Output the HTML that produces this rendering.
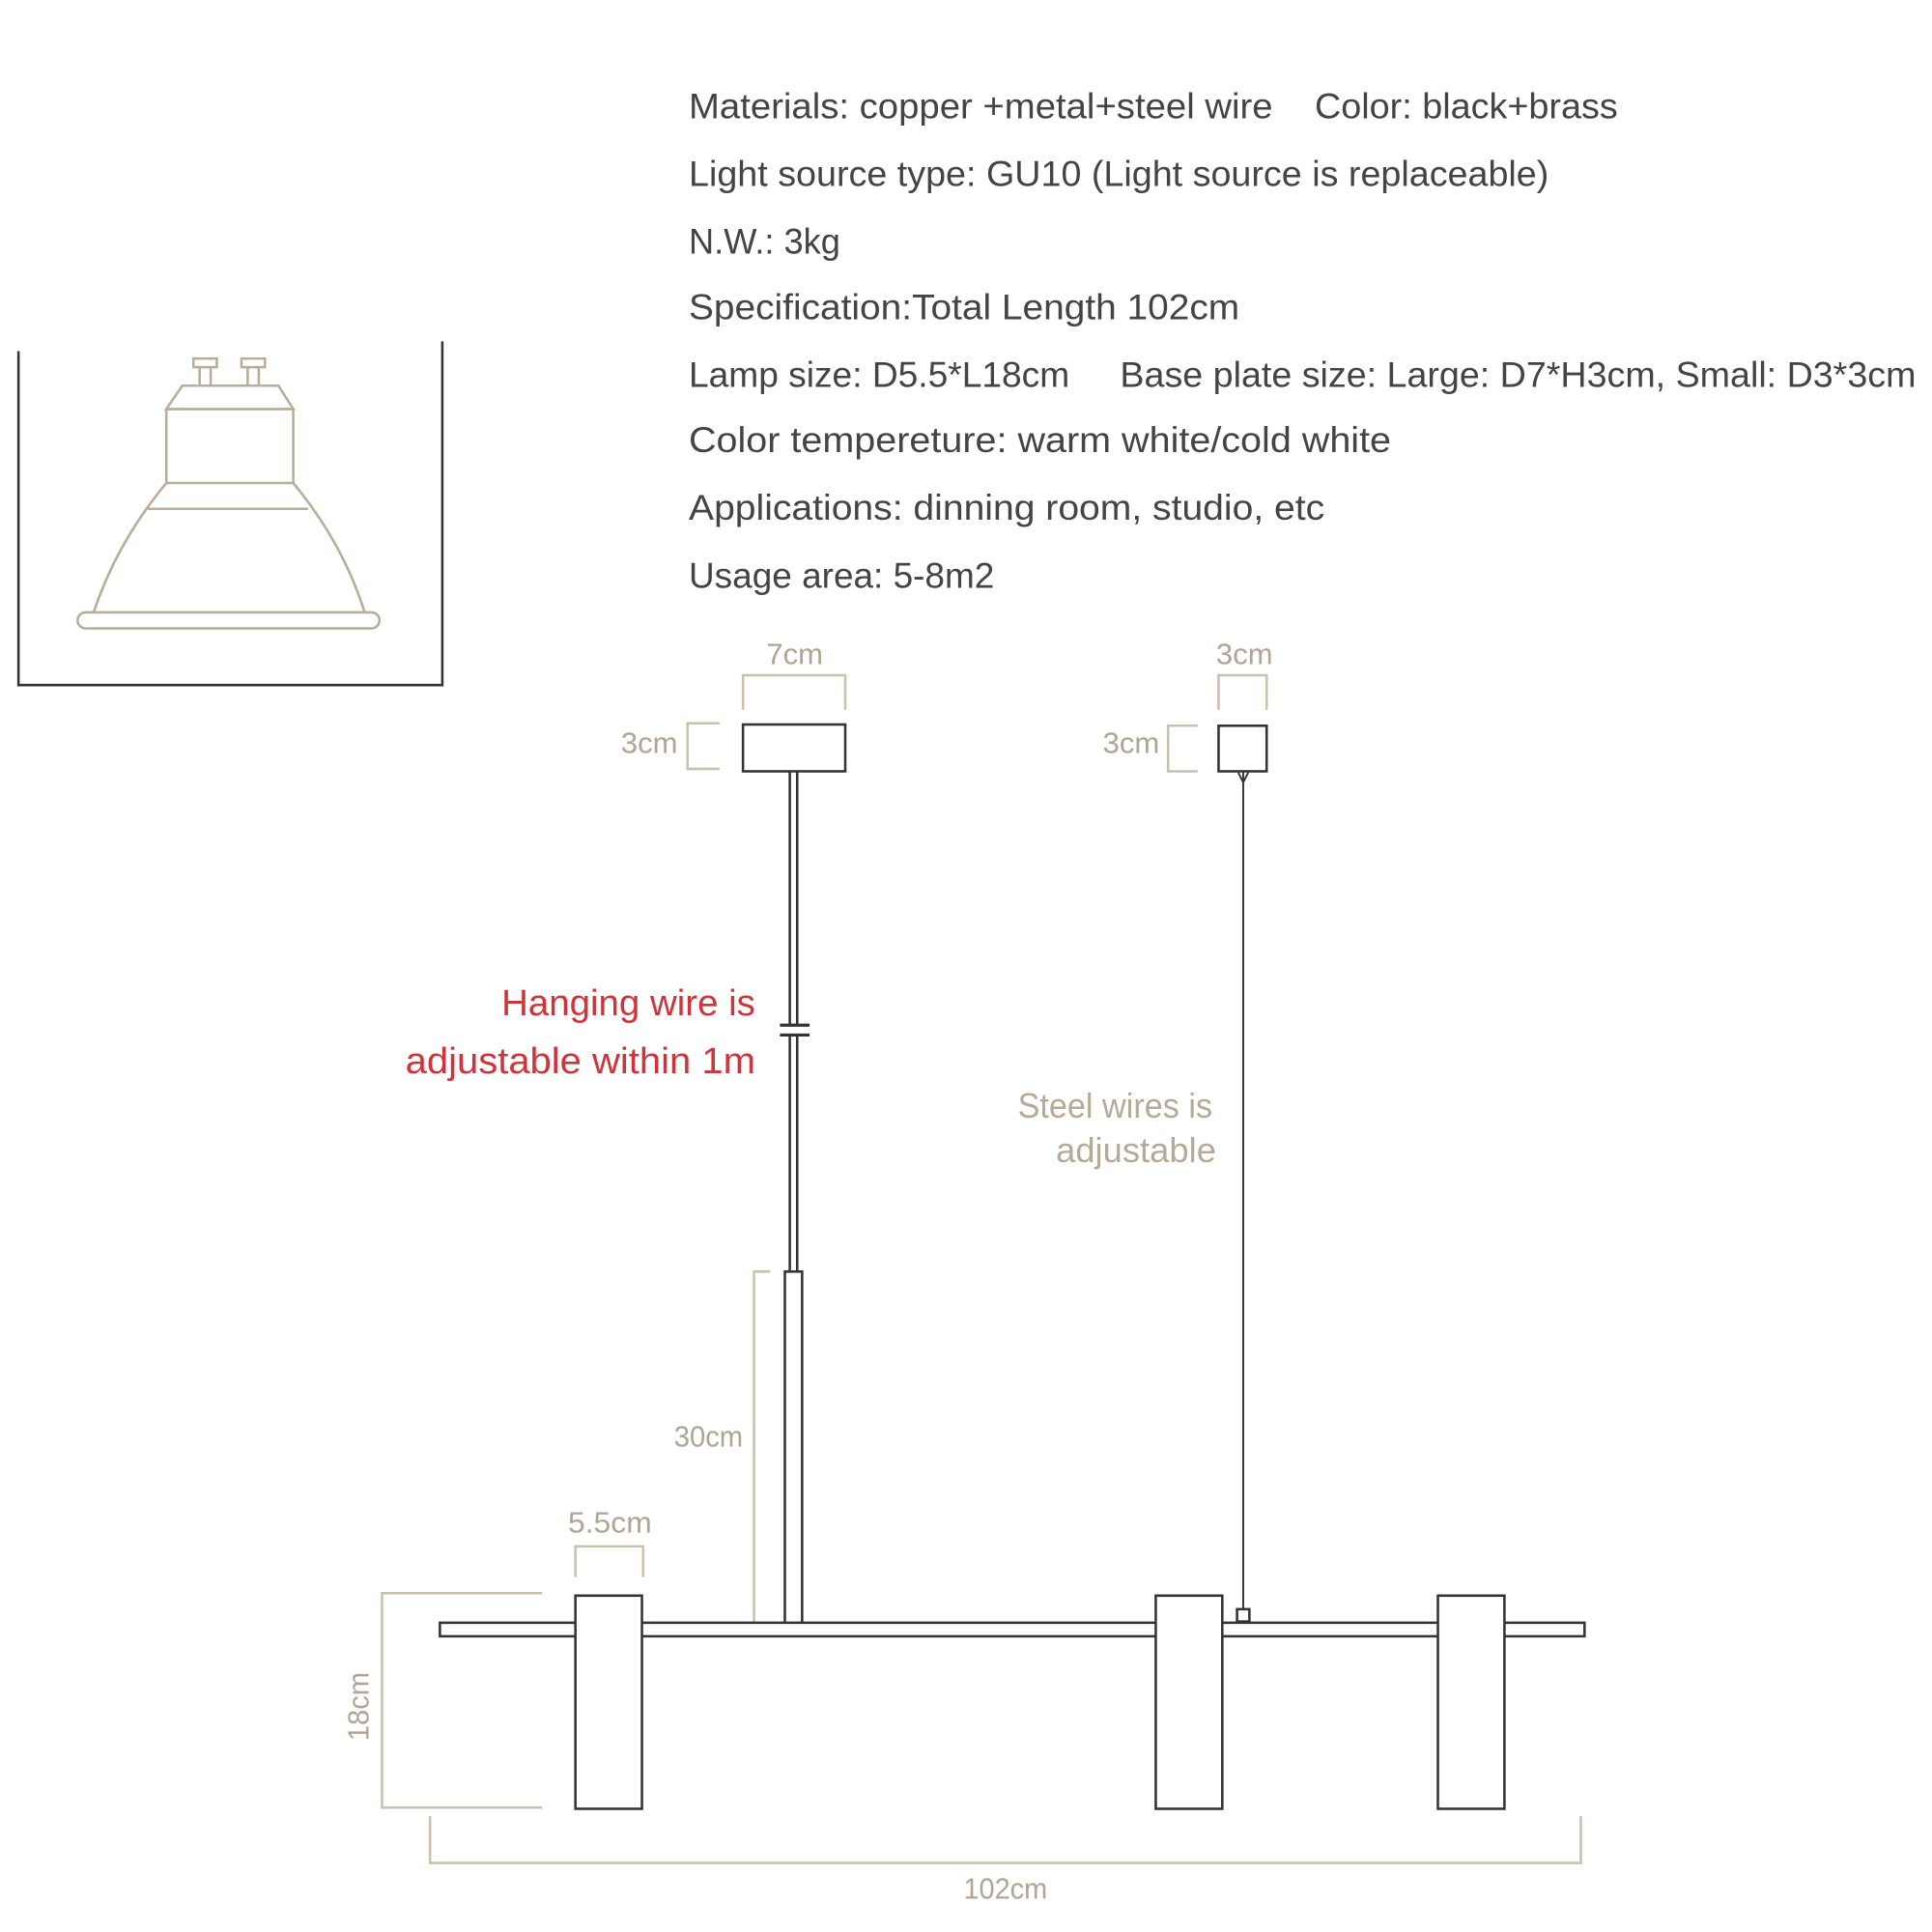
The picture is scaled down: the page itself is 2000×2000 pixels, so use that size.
<!DOCTYPE html>
<html><head><meta charset="utf-8"><style>
html,body{margin:0;padding:0;background:#fff;}
svg{display:block;}
</style></head><body>
<svg width="2000" height="2000" viewBox="0 0 1568 1568" xmlns="http://www.w3.org/2000/svg">
<rect width="1568" height="1568" fill="#fff"/>
<g font-family="Liberation Sans, sans-serif" font-size="29" fill="#444">
<text x="559" y="96" textLength="474" lengthAdjust="spacingAndGlyphs">Materials: copper +metal+steel wire</text>
<text x="1067" y="96" textLength="246" lengthAdjust="spacingAndGlyphs">Color: black+brass</text>
<text x="559" y="151" textLength="698" lengthAdjust="spacingAndGlyphs">Light source type: GU10 (Light source is replaceable)</text>
<text x="559" y="206" textLength="123" lengthAdjust="spacingAndGlyphs">N.W.: 3kg</text>
<text x="559" y="259" textLength="447" lengthAdjust="spacingAndGlyphs">Specification:Total Length 102cm</text>
<text x="559" y="314" textLength="309" lengthAdjust="spacingAndGlyphs">Lamp size: D5.5*L18cm</text>
<text x="909" y="314" textLength="646" lengthAdjust="spacingAndGlyphs">Base plate size:  Large: D7*H3cm, Small: D3*3cm</text>
<text x="559" y="367" textLength="570" lengthAdjust="spacingAndGlyphs">Color tempereture: warm white/cold white</text>
<text x="559" y="422" textLength="516" lengthAdjust="spacingAndGlyphs">Applications: dinning room, studio, etc</text>
<text x="559" y="477" textLength="248" lengthAdjust="spacingAndGlyphs">Usage area: 5-8m2</text>
</g>
<!-- bulb frame -->
<path d="M15 285 V556 H359 V277" fill="none" stroke="#333" stroke-width="2"/>
<g fill="none" stroke="#b8ad9b" stroke-width="2">
<rect x="157" y="291" width="19" height="7"/><rect x="196" y="291" width="19" height="7"/>
<path d="M162 298 V313 M171 298 V313 M201 298 V313 M210 298 V313"/>
<path d="M135 332 L148 313 H226 L238 332 Z"/>
<rect x="135" y="332" width="103" height="60"/>
<path d="M135 392 Q95 440 76 497 M238 392 Q278 440 296 497"/>
<path d="M120 413 H250"/>
<rect x="63" y="497" width="245" height="13" rx="6.5"/>
</g>
<!-- dimension lines -->
<g fill="none" stroke="#c9c0b0" stroke-width="2">
<path d="M603 576 V548 H686 V576"/>
<path d="M584 587 H558 V624 H584"/>
<path d="M989 576 V548 H1028 V576"/>
<path d="M972 589 H948 V626 H972"/>
<path d="M625 1032 H612 V1318"/>
<path d="M467 1280 V1255 H522 V1280"/>
<path d="M440 1293 H310 V1467 H440"/>
<path d="M349 1474 V1512 H1283 V1474"/>
</g>
<g font-family="Liberation Sans, sans-serif" font-size="24" fill="#b0a595">
<text x="645" y="539" text-anchor="middle" textLength="46" lengthAdjust="spacingAndGlyphs">7cm</text>
<text x="1010" y="539" text-anchor="middle" textLength="46" lengthAdjust="spacingAndGlyphs">3cm</text>
<text x="550" y="611" text-anchor="end" textLength="46" lengthAdjust="spacingAndGlyphs">3cm</text>
<text x="941" y="611" text-anchor="end" textLength="46" lengthAdjust="spacingAndGlyphs">3cm</text>
<text x="603" y="1174" text-anchor="end" textLength="56" lengthAdjust="spacingAndGlyphs">30cm</text>
<text x="495" y="1244" text-anchor="middle" textLength="68" lengthAdjust="spacingAndGlyphs">5.5cm</text>
<text x="816" y="1541" text-anchor="middle" textLength="68" lengthAdjust="spacingAndGlyphs">102cm</text>
<text transform="translate(299 1385) rotate(-90)" text-anchor="middle" textLength="56" lengthAdjust="spacingAndGlyphs">18cm</text>
</g>
<g font-family="Liberation Sans, sans-serif" font-size="30" fill="#d0343a" text-anchor="end">
<text x="613" y="824" textLength="206" lengthAdjust="spacingAndGlyphs">Hanging wire is</text>
<text x="613" y="871" textLength="284" lengthAdjust="spacingAndGlyphs">adjustable within 1m</text>
</g>
<g font-family="Liberation Sans, sans-serif" font-size="28" fill="#b5aa98" text-anchor="end">
<text x="984" y="907" textLength="158" lengthAdjust="spacingAndGlyphs">Steel wires is</text>
<text x="987" y="943" textLength="130" lengthAdjust="spacingAndGlyphs">adjustable</text>
</g>
<!-- lamp -->
<g fill="#fff" stroke="#333" stroke-width="2">
<rect x="603" y="588" width="83" height="38"/>
<rect x="989" y="589" width="39" height="37"/>
<path d="M641 626 V832 M647 626 V832 M641 840 V1032 M647 840 V1032" fill="none"/>
<path d="M633 832 H657 M633 840 H657" fill="none" stroke-width="2.5"/>
<path d="M1009 626 V1306" fill="none" stroke-width="1.5"/>
<path d="M1005 627 L1009 635 L1013 627" fill="none" stroke-width="1.5"/>
<rect x="637" y="1032" width="14" height="286"/>
<rect x="1004" y="1306" width="10" height="10"/>
<rect x="357" y="1317" width="929" height="11"/>
<rect x="467" y="1295" width="54" height="173"/>
<rect x="938" y="1295" width="54" height="173"/>
<rect x="1167" y="1295" width="54" height="173"/>
</g>
</svg>
</body></html>
